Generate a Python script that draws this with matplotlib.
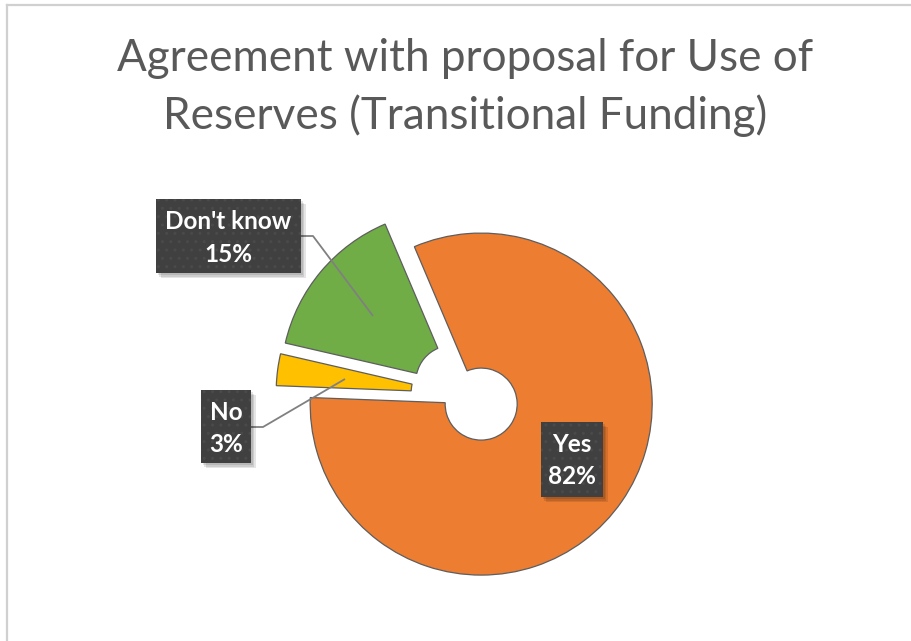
import matplotlib
matplotlib.use("Agg")
import matplotlib.pyplot as plt
from matplotlib.patches import Rectangle
from matplotlib.lines import Line2D

# ---- data ----
categories = ["Yes", "No", "Don't know"]
values = [82, 3, 15]
colors = ["#ED7D31", "#FFC000", "#70AD47"]
title_lines = ["Agreement with proposal for Use of", "Reserves (Transitional Funding)"]

W, H = 912, 641
fig = plt.figure(figsize=(W / 100, H / 100), dpi=100)
ax = fig.add_axes([0, 0, 1, 1])

def Y(y):
    return H - y

R = 171
hole = 36
ax.pie(values, colors=colors, startangle=113, counterclock=False,
       center=(468, Y(395)), radius=R, explode=[16, 21, 21],
       wedgeprops=dict(width=R - hole, edgecolor="#5E5E5E", linewidth=0.9))
ax.set_xlim(0, W)
ax.set_ylim(0, H)
ax.set_aspect("auto")
ax.axis("off")

# frame lines (top and left)
fig.add_artist(Line2D([7 / W, 1], [Y(5) / H, Y(5) / H], color="#D0D0D0", lw=1.6))
fig.add_artist(Line2D([7.5 / W, 7.5 / W], [0, Y(5) / H], color="#D0D0D0", lw=1.6))

# title
renderer = fig.canvas.get_renderer()
title_font = "Lato"
t1 = ax.text(465, Y(71), title_lines[0], ha="center", va="baseline",
             fontsize=30, color="#595959", family=title_font)
w1 = t1.get_window_extent(renderer).width
fs = 30 * 694 / w1
t1.set_fontsize(fs)
ax.text(465, Y(129), title_lines[1], ha="center", va="baseline",
        fontsize=fs, color="#595959", family=title_font)

# labels
label_boxes = {
    "Yes": (541, 422, 62, 75),
    "No": (201, 390, 50, 73),
    "Don't know": (156, 199, 145, 74),
}
leaders = {
    "No": [(251, 427), (263, 427), (345, 379)],
    "Don't know": [(301, 236), (313, 236), (373, 316)],
}
for cat, v in zip(categories, values):
    if cat in leaders:
        pts = leaders[cat]
        ax.plot([p[0] for p in pts], [Y(p[1]) for p in pts], color="#808080",
                lw=1.3, zorder=3, solid_capstyle="butt")
for cat, v in zip(categories, values):
    x, y, w, h = label_boxes[cat]
    for i, a in enumerate([0.10, 0.10, 0.10]):
        d = 2 + i * 1.5
        ax.add_patch(Rectangle((x + d, Y(y + h + d)), w, h, facecolor="#000000",
                               alpha=a, edgecolor="none", zorder=4))
    ax.add_patch(Rectangle((x, Y(y + h)), w, h, facecolor="#404040",
                           edgecolor="none", zorder=5))
    ax.add_patch(Rectangle((x, Y(y + h)), w, h, facecolor="none", hatch="..",
                           edgecolor="#4A4A4A", linewidth=0, zorder=5.5))
    cx = x + w / 2
    ax.text(cx, Y(y + 30), cat, ha="center", va="baseline", color="white",
            fontsize=17.5, fontweight="bold", family="Lato", zorder=6)
    ax.text(cx, Y(y + 62.5), f"{v}%", ha="center", va="baseline", color="white",
            fontsize=17.5, fontweight="bold", family="Lato", zorder=6)

fig.savefig("out.png", dpi=100, facecolor="white")
